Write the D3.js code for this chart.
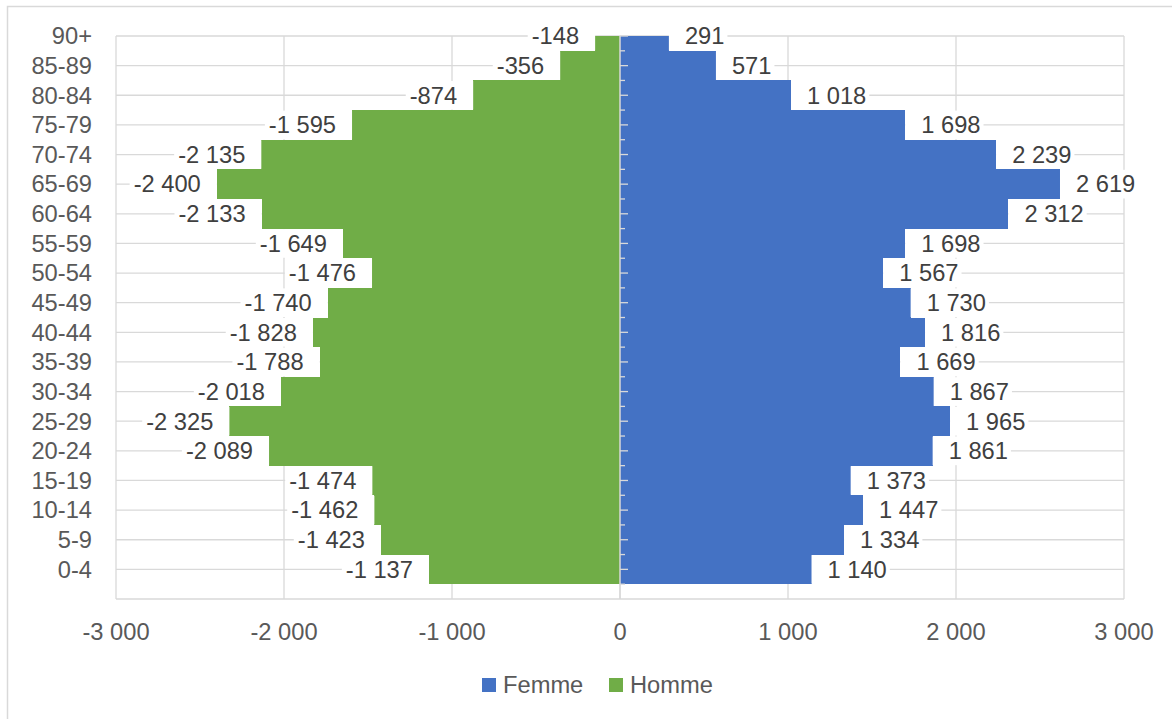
<!DOCTYPE html>
<html>
<head>
<meta charset="utf-8">
<script src="https://cdn.jsdelivr.net/npm/d3@7"></script>
<style>
  body { margin: 0; background: #fff; }
  text { font-family: "Liberation Sans", Arial, sans-serif; }
</style>
</head>
<body>
<div id="chart-area"></div>
<script>
// age groups, top to bottom
var ageGroups = ["90+", "85-89", "80-84", "75-79", "70-74", "65-69", "60-64", "55-59",
  "50-54", "45-49", "40-44", "35-39", "30-34", "25-29", "20-24", "15-19", "10-14", "5-9", "0-4"];
var femme = [291, 571, 1018, 1698, 2239, 2619, 2312, 1698, 1567, 1730, 1816, 1669,
  1867, 1965, 1861, 1373, 1447, 1334, 1140];
var homme = [-148, -356, -874, -1595, -2135, -2400, -2133, -1649, -1476, -1740, -1828, -1788,
  -2018, -2325, -2089, -1474, -1462, -1423, -1137];
var xTicks = [-3000, -2000, -1000, 0, 1000, 2000, 3000];

var W = 1172, H = 719;
var plotLeft = 116, plotRight = 1124, plotTop = 36, plotBottom = 599;
var grid = "#d9d9d9";
var blue = "#4472C4", green = "#70AD47";
var fontSize = "23.7px";

var fr = d3.formatLocale({decimal: ",", thousands: " ", grouping: [3], currency: ["", " €"], minus: "-"});
var fmt = fr.format(",d");

var svg = d3.select("#chart-area").append("svg")
  .attr("width", W)
  .attr("height", H);

// chart border
svg.append("rect")
  .attr("x", 7.5).attr("y", 6.5)
  .attr("width", 1200).attr("height", 740)
  .attr("fill", "none")
  .attr("stroke", grid)
  .attr("stroke-width", 1.5);

var x = d3.scaleLinear().domain([-3000, 3000]).range([plotLeft, plotRight]);
var step = (plotBottom - plotTop) / ageGroups.length;
var y = d3.scalePoint().domain(ageGroups).range([plotTop, plotBottom - step]);

svg.append("clipPath").attr("id", "plot")
  .append("rect")
    .attr("x", plotLeft).attr("y", plotTop)
    .attr("width", plotRight - plotLeft).attr("height", plotBottom - plotTop);

// gridlines
svg.selectAll(".vgrid").data(xTicks).enter()
  .append("line")
    .attr("x1", function(d) { return x(d); })
    .attr("x2", function(d) { return x(d); })
    .attr("y1", plotTop).attr("y2", plotBottom)
    .attr("stroke", grid).attr("stroke-width", 1.3);

var hLines = ageGroups.map(function(d) { return y(d); }).concat([plotBottom]);
svg.selectAll(".hgrid").data(hLines).enter()
  .append("line")
    .attr("x1", plotLeft).attr("x2", plotRight)
    .attr("y1", function(d) { return d; })
    .attr("y2", function(d) { return d; })
    .attr("stroke", grid).attr("stroke-width", 1.3);

// bars
var bars = svg.append("g").attr("clip-path", "url(#plot)")
  .attr("shape-rendering", "crispEdges");
bars.selectAll(".f").data(femme).enter()
  .append("rect")
    .attr("x", x(0))
    .attr("y", function(d, i) { return y(ageGroups[i]) - step / 2; })
    .attr("width", function(d) { return x(d) - x(0); })
    .attr("height", step)
    .attr("fill", blue);
bars.selectAll(".h").data(homme).enter()
  .append("rect")
    .attr("x", function(d) { return x(d); })
    .attr("y", function(d, i) { return y(ageGroups[i]) - step / 2; })
    .attr("width", function(d) { return x(0) - x(d); })
    .attr("height", step)
    .attr("fill", green);

// vertical category axis at 0
svg.append("line")
  .attr("x1", x(0)).attr("x2", x(0))
  .attr("y1", plotTop).attr("y2", plotBottom)
  .attr("stroke", grid).attr("stroke-width", 1.5);
var tickPos = [];
ageGroups.forEach(function(d) {
  tickPos.push({y: y(d), len: 8});
  tickPos.push({y: y(d) + step / 2, len: 5});
});
svg.selectAll(".tk").data(tickPos.filter(function(t) { return t.y <= plotBottom; })).enter()
  .append("line")
    .attr("x1", x(0))
    .attr("x2", function(d) { return x(0) + d.len; })
    .attr("y1", function(d) { return d.y; })
    .attr("y2", function(d) { return d.y; })
    .attr("stroke", grid).attr("stroke-width", 1.3);

// category labels
svg.selectAll(".cat").data(ageGroups).enter()
  .append("text")
    .attr("x", 92)
    .attr("y", function(d) { return y(d); })
    .attr("dy", "0.35em")
    .attr("text-anchor", "end")
    .style("font-size", fontSize)
    .attr("fill", "#595959")
    .text(function(d) { return d; });

// x tick labels
svg.selectAll(".xt").data(xTicks).enter()
  .append("text")
    .attr("x", function(d) { return x(d); })
    .attr("y", 632)
    .attr("dy", "0.35em")
    .attr("text-anchor", "middle")
    .style("font-size", fontSize)
    .attr("fill", "#595959")
    .text(function(d) { return fmt(d); });

// data labels with white boxes
function addLabels(values, side) {
  var g = svg.append("g");
  values.forEach(function(v, i) {
    var cy = y(ageGroups[i]);
    var box = g.append("rect").attr("fill", "#fff");
    var t = g.append("text")
      .attr("y", cy)
      .attr("dy", "0.35em")
      .style("font-size", fontSize)
      .attr("fill", "#404040")
      .text(fmt(v));
    var w = t.node().getComputedTextLength();
    var end = x(v);
    if (side < 0) {
      t.attr("x", end - 16).attr("text-anchor", "end");
      box.attr("x", end - 16 - w - 4).attr("width", w + 20);
    } else {
      t.attr("x", end + 16).attr("text-anchor", "start");
      box.attr("x", end).attr("width", w + 19);
    }
    box.attr("y", cy - step / 2 + 0.5).attr("height", step - 1);
  });
}
addLabels(homme, -1);
addLabels(femme, 1);

// legend
var legend = [{name: "Femme", color: blue, x: 482}, {name: "Homme", color: green, x: 609}];
var lg = svg.selectAll(".lg").data(legend).enter().append("g");
lg.append("rect")
  .attr("x", function(d) { return d.x; })
  .attr("y", 678)
  .attr("width", 14).attr("height", 14)
  .attr("fill", function(d) { return d.color; });
lg.append("text")
  .attr("x", function(d) { return d.x + 21; })
  .attr("y", 685)
  .attr("dy", "0.35em")
  .style("font-size", fontSize)
  .attr("fill", "#595959")
  .text(function(d) { return d.name; });
</script>
</body>
</html>
